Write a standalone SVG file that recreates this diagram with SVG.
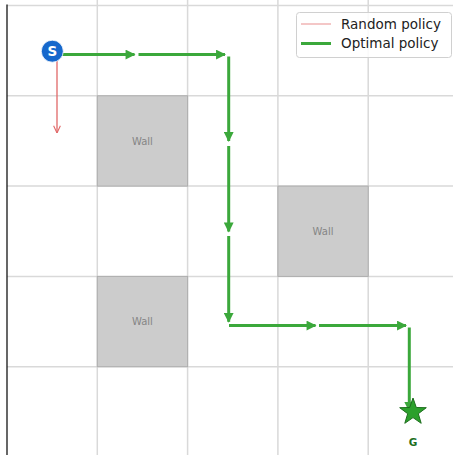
<svg xmlns="http://www.w3.org/2000/svg" width="453" height="455" viewBox="0 0 453 455">
  <style>
    .grid { stroke: #d9d9d9; stroke-width: 1.5; fill: none; }
    .wall rect { fill: #cccccc; stroke: #adadad; stroke-width: 1; }
    .wall text { font-family: "DejaVu Sans", sans-serif; font-size: 10px; fill: #858585; text-anchor: middle; }
    .opt { stroke: #3ba83b; stroke-width: 3; fill: none; }
    .rnd { stroke: #e06868; stroke-width: 1.3; fill: none; }
    .legend text { font-family: "DejaVu Sans", sans-serif; font-size: 13.5px; fill: #222; }
  </style>
  <defs>
    <marker id="headOpt" viewBox="0 0 10 10" refX="9" refY="5" markerWidth="3.5" markerHeight="3.3" markerUnits="strokeWidth" orient="auto">
      <path d="M0,0 L10,5 L0,10 Z" fill="#3ba83b"/>
    </marker>
    <marker id="headRnd" viewBox="0 0 10 10" refX="9.5" refY="5" markerWidth="6.5" markerHeight="6.5" markerUnits="strokeWidth" orient="auto">
      <path d="M1,1 L9.5,5 L1,9" fill="none" stroke="#e06868" stroke-width="1.3"/>
    </marker>
  </defs>

  <rect width="453" height="455" fill="#ffffff"/>

  <!-- grid lines -->
  <g id="grid">
    <line class="grid" x1="97.3" y1="0" x2="97.3" y2="455"/>
    <line class="grid" x1="187.6" y1="0" x2="187.6" y2="455"/>
    <line class="grid" x1="277.9" y1="0" x2="277.9" y2="455"/>
    <line class="grid" x1="368.2" y1="0" x2="368.2" y2="455"/>
    <line class="grid" x1="7" y1="5.5" x2="453" y2="5.5"/>
    <line class="grid" x1="7" y1="95.8" x2="453" y2="95.8"/>
    <line class="grid" x1="7" y1="186.1" x2="453" y2="186.1"/>
    <line class="grid" x1="7" y1="276.4" x2="453" y2="276.4"/>
    <line class="grid" x1="7" y1="366.7" x2="453" y2="366.7"/>
  </g>

  <!-- walls -->
  <g id="wall-1-1" class="wall">
    <rect x="97.3" y="95.8" width="90.3" height="90.3"/>
    <text x="142.45" y="144.5">Wall</text>
  </g>
  <g id="wall-3-2" class="wall">
    <rect x="277.9" y="186.1" width="90.3" height="90.3"/>
    <text x="323.05" y="234.8">Wall</text>
  </g>
  <g id="wall-1-3" class="wall">
    <rect x="97.3" y="276.4" width="90.3" height="90.3"/>
    <text x="142.45" y="325.1">Wall</text>
  </g>

  <!-- left axis spine -->
  <line x1="7" y1="4.5" x2="7" y2="455" stroke="#000" stroke-width="1.2"/>

  <!-- policy arrows -->
  <g id="connectors">
    <line class="rnd" x1="57" y1="52" x2="57" y2="133" marker-end="url(#headRnd)"/>
    <line class="opt" x1="52" y1="54.6" x2="134.5" y2="54.6" marker-end="url(#headOpt)"/>
    <line class="opt" x1="138.5" y1="54.6" x2="225" y2="54.6" marker-end="url(#headOpt)"/>
    <line class="opt" x1="228.7" y1="56.5" x2="228.7" y2="141" marker-end="url(#headOpt)"/>
    <line class="opt" x1="228.7" y1="146" x2="228.7" y2="231.5" marker-end="url(#headOpt)"/>
    <line class="opt" x1="228.7" y1="236" x2="228.7" y2="321.8" marker-end="url(#headOpt)"/>
    <line class="opt" x1="229" y1="325.6" x2="315.5" y2="325.6" marker-end="url(#headOpt)"/>
    <line class="opt" x1="319" y1="325.6" x2="406" y2="325.6" marker-end="url(#headOpt)"/>
    <line class="opt" x1="409.3" y1="327.5" x2="409.3" y2="411" marker-end="url(#headOpt)"/>
  </g>

  <!-- start -->
  <g id="start">
    <circle cx="52.3" cy="51.2" r="11" fill="#1668cc" stroke="#ffffff" stroke-width="0.8"/>
    <text x="52.3" y="56" font-family="DejaVu Sans, sans-serif" font-size="13.5" font-weight="bold" fill="#ffffff" text-anchor="middle">S</text>
  </g>

  <!-- goal -->
  <g id="goal">
    <polygon points="413,398 416.3,407.5 426.3,407.7 418.3,413.7 421.2,423.3 413,417.6 404.8,423.3 407.7,413.7 399.7,407.7 409.7,407.5" fill="#2ca02c" stroke="#1d6e1d" stroke-width="1"/>
    <text x="413" y="445.5" font-family="DejaVu Sans, sans-serif" font-size="10.5" font-weight="bold" fill="#1d6e1d" text-anchor="middle">G</text>
  </g>

  <!-- legend -->
  <g id="legend" class="legend">
    <rect x="296.5" y="12.5" width="155" height="45" rx="3" fill="#ffffff" fill-opacity="0.85" stroke="#d0d0d0" stroke-width="1"/>
    <line x1="301" y1="24" x2="331" y2="24" stroke="#f0b4b4" stroke-width="1.5"/>
    <text x="341" y="28.5">Random policy</text>
    <line x1="301" y1="43.5" x2="331" y2="43.5" stroke="#3ba83b" stroke-width="3"/>
    <text x="341" y="48">Optimal policy</text>
  </g>
</svg>
